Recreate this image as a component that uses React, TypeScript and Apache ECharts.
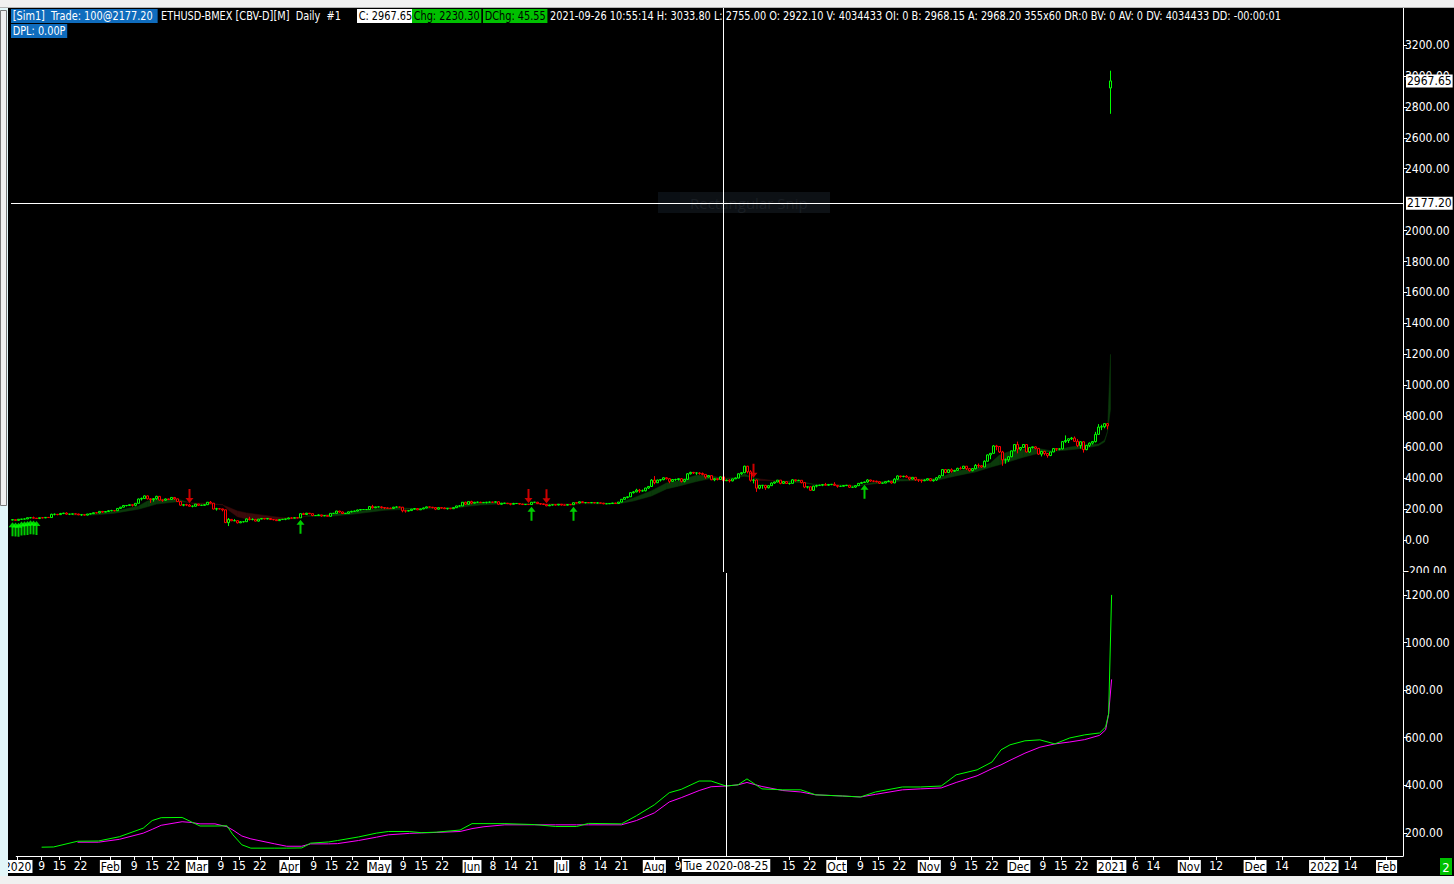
import React, { useEffect, useRef } from "react";
import * as echarts from "echarts";

// Daily ETHUSD bars, rows are [open, high, low, close]
const jan2020 = [[129,133,128,131],[131,131,126,127],[127,135,125,134],[134,136,132,135],[135,139,134,136],[136,145,135,144],[144,148,140,144],[144,151,139,141],[141,142,136,139],[139,145,135,144],[144,148,140,143],[143,147,141,146],[146,147,142,145],[145,170,144,166],[166,171,159,166],[166,167,160,164],[164,175,162,171],[171,175,167,174],[174,179,163,167],[167,168,161,167],[167,170,164,169],[169,171,166,168],[168,169,160,163],[163,165,156,163],[163,163,158,161],[161,168,159,168],[168,174,166,170],[170,177,168,176],[176,180,172,175],[175,187,172,185],[185,186,176,180]];
const feb2020 = [[180,185,179,184],[184,193,182,189],[189,195,186,190],[190,191,185,189],[189,206,188,204],[204,214,202,212],[212,225,210,223],[223,226,217,223],[223,229,222,228],[228,229,216,224],[224,238,218,237],[237,268,236,265],[265,275,255,268],[268,288,266,285],[285,288,262,266],[266,270,240,261],[261,271,248,267],[267,286,260,282],[282,284,256,258],[258,262,247,257],[257,268,254,265],[265,267,258,262],[262,276,260,275],[275,278,260,266],[266,267,246,248],[248,250,220,225],[225,233,218,228],[228,234,219,226],[226,233,217,218]];
const mar2020 = [[218,224,211,218],[218,233,216,232],[232,233,221,224],[224,228,220,224],[224,231,223,228],[228,245,227,244],[244,252,236,238],[238,239,197,200],[200,208,190,202],[202,207,197,201],[201,202,185,195],[195,196,110,112],[112,142,90,133],[133,135,122,124],[124,135,122,125],[125,126,107,111],[111,122,109,118],[118,119,113,118],[118,140,117,136],[136,150,126,132],[132,140,127,133],[133,136,121,122],[122,136,119,135],[135,141,134,139],[139,141,133,136],[136,139,134,139],[139,140,130,132],[132,132,127,131],[131,132,124,125],[125,134,124,132],[132,136,131,134]];
const apr2020 = [[134,137,128,136],[136,145,135,142],[142,147,138,141],[141,146,140,144],[144,145,140,143],[143,172,143,170],[170,176,164,165],[165,175,164,173],[173,174,167,170],[170,170,154,158],[158,160,155,158],[158,166,157,162],[162,162,150,156],[156,160,154,158],[158,159,153,153],[153,174,150,172],[172,175,169,172],[172,189,171,187],[187,188,177,181],[181,184,169,171],[171,174,168,172],[172,184,170,182],[182,189,178,185],[185,190,184,187],[187,196,185,194],[194,198,192,197],[197,200,194,197],[197,198,193,197],[197,218,196,216],[216,227,203,208]];
const may2020 = [[208,215,206,214],[214,216,210,214],[214,218,203,210],[210,211,199,207],[207,210,202,205],[205,209,200,204],[204,214,202,212],[212,218,210,213],[213,215,208,212],[212,213,179,189],[189,195,177,187],[187,192,185,190],[190,201,188,199],[199,206,196,203],[203,204,193,195],[195,202,194,201],[201,210,199,207],[207,216,205,214],[214,216,208,212],[212,213,204,210],[210,211,193,199],[199,210,197,209],[209,211,203,207],[207,211,200,202],[202,206,197,205],[205,206,199,202],[202,210,201,209],[209,221,207,220],[220,225,216,220],[220,245,219,244],[244,247,229,231]];
const jun2020 = [[231,249,229,248],[248,254,231,238],[238,246,236,244],[244,248,239,244],[244,247,239,241],[241,245,240,243],[243,246,236,244],[244,248,242,245],[245,246,240,244],[244,250,242,247],[247,249,229,231],[231,240,229,237],[237,240,235,238],[238,239,232,235],[235,236,224,231],[231,240,230,236],[236,239,234,236],[236,237,229,232],[232,234,226,229],[229,232,226,230],[230,232,227,229],[229,245,228,244],[244,246,241,244],[244,246,233,235],[235,237,228,233],[233,235,226,230],[230,231,218,221],[221,228,219,226],[226,230,223,228],[228,229,223,226]];
const jul2020 = [[226,232,224,231],[231,232,223,226],[226,228,224,225],[225,230,224,229],[229,229,225,228],[228,242,227,241],[241,242,237,239],[239,249,237,247],[247,249,240,242],[242,243,236,242],[242,243,239,241],[241,243,238,242],[242,244,237,240],[240,242,236,240],[240,241,236,238],[238,240,231,234],[234,236,232,234],[234,238,233,236],[236,240,234,239],[239,240,235,236],[236,246,236,245],[245,264,243,263],[263,277,261,275],[275,281,269,279],[279,306,278,306],[306,316,300,311],[311,331,308,322],[322,330,305,317],[317,326,313,318],[318,337,314,336],[336,348,330,346]];
const aug2020 = [[346,394,345,387],[387,413,360,370],[370,390,368,387],[387,394,378,390],[390,405,386,402],[402,405,391,396],[396,400,367,379],[379,392,376,391],[391,396,382,391],[391,399,384,396],[396,400,372,379],[379,394,372,392],[392,432,389,428],[428,441,423,437],[437,440,427,433],[433,436,421,433],[433,438,422,430],[430,436,418,424],[424,425,396,407],[407,419,405,416],[416,418,387,389],[389,397,380,396],[396,398,385,391],[391,411,391,408],[408,409,375,383],[383,390,381,387],[387,393,372,382],[382,396,379,395],[395,404,395,400],[400,429,399,428],[428,438,421,435]];
const sep2020 = [[435,480,432,477],[477,479,430,441],[441,451,377,386],[386,396,366,388],[388,392,311,335],[335,355,328,353],[353,355,331,353],[353,356,324,338],[338,353,333,351],[351,372,350,368],[368,377,363,375],[375,387,372,387],[387,387,360,366],[366,381,362,377],[377,379,362,365],[365,370,358,366],[366,393,364,389],[389,390,377,384],[384,389,381,386],[386,386,366,371],[371,372,335,342],[342,346,333,344],[344,346,317,321],[321,351,318,348],[348,357,340,352],[352,357,350,354],[354,362,348,358],[358,369,352,354],[354,362,350,359],[359,362,354,360]];
const oct2020 = [[360,373,349,353],[353,355,338,347],[347,351,344,347],[347,355,346,352],[352,356,348,354],[354,355,336,341],[341,344,337,342],[342,352,337,351],[351,368,349,366],[366,376,365,371],[371,377,370,375],[375,393,369,388],[388,389,376,381],[381,385,374,380],[380,383,372,377],[377,378,362,367],[367,370,365,368],[368,379,367,377],[377,386,375,379],[379,382,364,369],[369,400,367,393],[393,418,388,414],[414,415,403,410],[410,415,405,412],[412,419,404,406],[406,407,386,394],[394,405,392,405],[405,406,382,389],[389,393,375,387],[387,390,370,383],[383,392,380,387]];
const nov2020 = [[387,398,385,396],[396,398,380,383],[383,391,377,388],[388,407,382,402],[402,419,399,415],[415,457,413,455],[455,459,431,436],[436,456,432,454],[454,463,435,444],[444,453,440,450],[450,467,449,463],[463,474,455,462],[462,479,458,477],[477,477,453,461],[461,462,442,448],[448,464,444,461],[461,491,456,482],[482,494,467,480],[480,483,466,472],[472,515,470,509],[509,553,507,550],[550,560,522,560],[560,614,559,608],[608,615,580,604],[604,607,562,569],[569,576,480,518],[518,527,493,518],[518,542,505,538],[538,578,535,576],[576,617,575,617]];
const dec2020 = [[617,636,560,587],[587,601,577,598],[598,619,596,617],[617,620,566,569],[569,597,563,597],[597,604,591,602],[602,605,586,592],[592,595,550,555],[555,576,540,573],[573,577,547,559],[559,560,532,546],[546,569,542,569],[569,593,567,591],[591,594,576,587],[587,594,580,589],[589,638,585,636],[636,676,627,643],[643,656,627,654],[654,666,646,659],[659,669,636,638],[638,652,600,610],[610,637,591,635],[635,638,565,584],[584,613,580,612],[612,630,601,626],[626,640,617,636],[636,699,630,683],[683,749,681,730],[730,745,710,732],[732,754,722,752],[752,754,715,738]];
const lastBar2021 = [[2922.10,3033.80,2755.00,2967.65]];

// Moving averages (lower pane), sampled: day number since 2020-01-01
const maDays = [8,12,20,27,34,42,45,48,55,58,61,66,70,72,75,78,86,90,95,98,104,107,114,120,124,131,135,140,148,152,156,163,173,180,187,191,202,207,213,218,222,228,232,237,241,244,249,256,262,267,276,282,287,296,302,309,314,321,326,329,332,337,342,347,352,357,362,364,365,366];
const fastMa = [140,141,165,166,184,220,252,264,265,247,229,229,230,192,150,136,136,136,137,157,162,168,183,199,206,206,201,203,212,239,239,239,235,227,227,240,238,272,318,369,383,418,418,397,402,427,385,381,381,360,355,351,372,393,393,397,444,465,498,549,570,587,591,574,599,612,620,645,700,1200];
const slowMa = [null,null,161,161,173,199,215,232,247,244,238,238,226,212,187,175,154,144,144,154,154,155,168,182,192,198,200,202,206,218,226,234,234,234,234,234,234,252,284,330,348,378,394,397,402,412,395,378,372,360,355,351,362,381,385,389,412,440,470,486,505,535,560,574,582,592,610,633,700,845];

const buySignalDays = [0,1,2,3,4,5,6,7,8,96,173,187,284];
const sellSignalDays = [59,172,178,247];

// 2200 sits under the crosshair price box in the reference
const priceTicks = [-200,0,200,400,600,800,1000,1200,1400,1600,1800,2000,2400,2600,2800,3000,3200];
const maTicks = [200,400,600,800,1000,1200];

const xTickDays = [0,8,14,21,31,39,45,52,60,68,74,81,91,99,105,112,121,129,135,142,152,159,165,172,182,189,195,202,213,221,258,265,274,282,288,295,305,313,319,326,335,343,349,356,366,374,380,392,401,414,423,437,446,458];
const xTickTexts = ["2020","9","15","22","Feb","9","15","22","Mar","9","15","22","Apr","9","15","22","May","9","15","22","Jun","8","14","21","Jul","8","14","21","Aug","9","15","22","Oct","9","15","22","Nov","9","15","22","Dec","9","15","22","2021","6","14","Nov","12","Dec","14","2022","14","Feb"];

const crosshairDay = 237;
const crosshairPrice = 2177.2;
const crosshairDateText = "Tue 2020-08-25";
const lastPrice = 2967.65;

const FONT = "'Liberation Sans Narrow', 'DejaVu Sans Condensed', 'Liberation Sans', sans-serif";
const AXIS_FS = 12;

function buildCategories(): string[] {
  const cats: string[] = [];
  for (let i = 0; i < 366; i++) {
    cats.push(new Date(Date.UTC(2020, 0, 1 + i)).toISOString().slice(0, 10));
  }
  cats.push("2021-09-26");
  let t = Date.UTC(2021, 8, 26);
  while (cats.length < 464) {
    t += 86400000;
    const d = new Date(t);
    const wd = d.getUTCDay();
    if (wd === 0 || wd === 6) continue;
    cats.push(d.toISOString().slice(0, 10));
  }
  return cats;
}

export default function App() {
  const ref = useRef<HTMLDivElement>(null);
  useEffect(() => {
    document.body.style.margin = "0";
    const el = ref.current!;
    const chart = echarts.init(el, null, { renderer: "svg" });
    const cats = buildCategories();
    const rows = [...jan2020, ...feb2020, ...mar2020, ...apr2020, ...may2020, ...jun2020, ...jul2020, ...aug2020, ...sep2020, ...oct2020, ...nov2020, ...dec2020, ...lastBar2021];
    const candleData = rows.map(([o, h, l, c]) => [o, c, l, h]);
    const tickMap = new Map<number, string>();
    xTickDays.forEach((d, k) => tickMap.set(d, xTickTexts[k]));
    const fastData = maDays.map((d, k) => [d, fastMa[k]]);
    const slowData = maDays.map((d, k) => [d, slowMa[k]]).filter((p) => p[1] != null);
    const ribbon: number[][] = [];
    for (let k = 0; k < maDays.length - 1; k++) {
      if (slowMa[k] == null || slowMa[k + 1] == null) continue;
      ribbon.push([maDays[k], fastMa[k], slowMa[k] as number, maDays[k + 1], fastMa[k + 1], slowMa[k + 1] as number]);
    }
    const buyData = buySignalDays.map((d) => [d, rows[d][2]]);
    const sellData = sellSignalDays.map((d) => [d, rows[d][1]]);

    const boxLabel = {
      show: true,
      backgroundColor: "#fff",
      color: "#000",
      fontFamily: FONT,
      fontSize: AXIS_FS,
      padding: [1, 1, 0, 1],
    };

    const HS = 0.835;
    const header = (text: string, x: number, y: number, fill: string, bg?: string) => ({
      type: "text",
      x,
      y,
      z: 50,
      scaleX: HS,
      style: {
        text,
        fill,
        font: `13px ${FONT}`,
        backgroundColor: bg,
        padding: bg ? [1, 2, 0, 2] : 0,
        verticalAlign: "middle",
      },
    });

    chart.setOption({
      animation: false,
      backgroundColor: "#000",
      grid: [
        { left: 11, right: 51, top: 8, height: 564 },
        { left: 11, right: 51, top: 573, height: 283 },
      ],
      xAxis: [
        { type: "category", gridIndex: 0, data: cats, boundaryGap: true, show: false },
        {
          type: "category",
          gridIndex: 1,
          data: cats,
          boundaryGap: true,
          axisLine: { show: true, lineStyle: { color: "#fff", width: 1 } },
          axisTick: {
            show: true,
            alignWithLabel: true,
            interval: (i: number) => tickMap.has(i),
            length: 4,
            lineStyle: { color: "#fff" },
          },
          axisLabel: {
            show: true,
            interval: (i: number) => tickMap.has(i),
            color: "#fff",
            fontFamily: FONT,
            fontSize: AXIS_FS,
            margin: 4,
            formatter: (_v: string, i: number) => {
              const t = tickMap.get(i) || "";
              return /^\d{1,2}$/.test(t) ? t : `{box|${t}}`;
            },
            rich: {
              box: { backgroundColor: "#fff", color: "#000", fontFamily: FONT, fontSize: AXIS_FS, padding: [1, 1, 0, 1] },
            },
          },
          splitLine: { show: false },
        },
      ],
      yAxis: [
        {
          type: "value",
          gridIndex: 0,
          position: "right",
          min: -207,
          max: 3439,
          axisLine: { show: true, lineStyle: { color: "#fff" } },
          axisTick: { show: true, length: 4, customValues: priceTicks, lineStyle: { color: "#fff" } },
          axisLabel: {
            customValues: priceTicks,
            formatter: (v: number) => v.toFixed(2),
            color: "#fff",
            fontFamily: FONT,
            fontSize: AXIS_FS,
            margin: 2,
          },
          splitLine: { show: false },
        },
        {
          type: "value",
          gridIndex: 1,
          position: "right",
          min: 103,
          max: 1292,
          axisLine: { show: true, lineStyle: { color: "#fff" } },
          axisTick: { show: true, length: 4, customValues: maTicks, lineStyle: { color: "#fff" } },
          axisLabel: {
            customValues: maTicks,
            formatter: (v: number) => v.toFixed(2),
            color: "#fff",
            fontFamily: FONT,
            fontSize: AXIS_FS,
            margin: 2,
          },
          splitLine: { show: false },
        },
      ],
      series: [
        {
          type: "custom",
          name: "ribbon",
          xAxisIndex: 0,
          yAxisIndex: 0,
          z: 1,
          silent: true,
          data: ribbon,
          encode: { x: [0, 3], y: [1, 2, 4, 5] },
          renderItem: (_p: any, api: any) => {
            const p0 = api.coord([api.value(0), api.value(1)]);
            const p1 = api.coord([api.value(3), api.value(4)]);
            const q1 = api.coord([api.value(3), api.value(5)]);
            const q0 = api.coord([api.value(0), api.value(2)]);
            const up = api.value(1) + api.value(4) >= api.value(2) + api.value(5);
            return {
              type: "polygon",
              shape: { points: [p0, p1, q1, q0] },
              style: { fill: up ? "#0b3a0b" : "#3a0b0b", stroke: up ? "#0b3a0b" : "#3a0b0b", lineWidth: 0.5 },
            };
          },
        },
        {
          type: "candlestick",
          name: "ETHUSD",
          xAxisIndex: 0,
          yAxisIndex: 0,
          z: 2,
          barWidth: 3,
          data: candleData,
          itemStyle: {
            color: "#000",
            color0: "#000",
            borderColor: "#00ff00",
            borderColor0: "#ff0000",
            borderWidth: 1,
          },
          markLine: {
            silent: true,
            symbol: ["none", "none"],
            animation: false,
            data: [
              {
                yAxis: crosshairPrice,
                lineStyle: { color: "#fff", width: 1, type: "solid" },
                label: { ...boxLabel, position: "end", distance: 3, formatter: (p: any) => Number(p.value).toFixed(2) },
              },
              {
                yAxis: lastPrice,
                lineStyle: { color: "rgba(0,0,0,0)", width: 1, type: "solid" },
                label: { ...boxLabel, position: "end", distance: 3, formatter: (p: any) => Number(p.value).toFixed(2) },
              },
            ],
          },
        },
        {
          type: "scatter",
          name: "crosshairTop",
          xAxisIndex: 0,
          yAxisIndex: 0,
          silent: true,
          symbolSize: 0,
          data: [[crosshairDay, crosshairPrice]],
          markLine: {
            silent: true,
            symbol: ["none", "none"],
            animation: false,
            data: [{ xAxis: crosshairDay, lineStyle: { color: "#fff", width: 1, type: "solid" }, label: { show: false } }],
          },
        },
        {
          type: "scatter",
          name: "crosshairBottom",
          xAxisIndex: 1,
          yAxisIndex: 1,
          silent: true,
          symbolSize: 0,
          data: [[crosshairDay, 400]],
          markLine: {
            silent: true,
            symbol: ["none", "none"],
            animation: false,
            data: [
              {
                xAxis: crosshairDay,
                lineStyle: { color: "#fff", width: 1, type: "solid" },
                label: { ...boxLabel, position: "start", distance: 3, padding: [1, 2, 0, 2], formatter: crosshairDateText },
              },
            ],
          },
        },
        {
          type: "scatter",
          name: "buy",
          xAxisIndex: 0,
          yAxisIndex: 0,
          z: 3,
          data: buyData,
          symbol: "path://M4,0 L8,5 L5,5 L5,14 L3,14 L3,5 L0,5 Z",
          symbolSize: [8, 14],
          symbolOffset: [0, 9],
          itemStyle: { color: "#00ff00" },
        },
        {
          type: "scatter",
          name: "sell",
          xAxisIndex: 0,
          yAxisIndex: 0,
          z: 3,
          data: sellData,
          symbol: "path://M3,0 L5,0 L5,9 L8,9 L4,14 L0,9 L3,9 Z",
          symbolSize: [8, 14],
          symbolOffset: [0, -8],
          itemStyle: { color: "#ff0000" },
        },
        {
          type: "line",
          name: "slow",
          xAxisIndex: 1,
          yAxisIndex: 1,
          data: slowData,
          showSymbol: false,
          lineStyle: { color: "#ff00ff", width: 1 },
          z: 2,
        },
        {
          type: "line",
          name: "fast",
          xAxisIndex: 1,
          yAxisIndex: 1,
          data: fastData,
          showSymbol: false,
          lineStyle: { color: "#00ff00", width: 1 },
          z: 3,
        },
      ],
      graphic: [
        { type: "rect", z: 40, shape: { x: 0, y: 0, width: 1454, height: 7 }, style: { fill: "#f0f0f0" } },
        { type: "rect", z: 40, shape: { x: 0, y: 7, width: 1454, height: 1 }, style: { fill: "#b4b4b4" } },
        { type: "rect", z: 40, shape: { x: 0, y: 8, width: 8, height: 868 }, style: { fill: "#e2f6f9" } },
        { type: "rect", z: 41, shape: { x: 0.5, y: 10.5, width: 6, height: 495 }, style: { fill: "#f0f0f0", stroke: "#7a7a7a", lineWidth: 1 } },
        { type: "rect", z: 40, shape: { x: 0, y: 876, width: 1454, height: 8 }, style: { fill: "#f0f0f0" } },
        { type: "rect", z: 40, shape: { x: 1404, y: 573, width: 50, height: 8 }, style: { fill: "#000" } },
        { type: "rect", z: 41, shape: { x: 1440, y: 858, width: 12, height: 17 }, style: { fill: "#00c000" } },
        { type: "text", z: 42, x: 1446, y: 867, style: { text: "2", fill: "#fff", font: `13px ${FONT}`, align: "center", verticalAlign: "middle" } },
        { type: "rect", z: 0, shape: { x: 658, y: 192, width: 172, height: 21 }, style: { fill: "#0d1115" } },
        { type: "rect", z: 0, shape: { x: 658, y: 192, width: 22, height: 21 }, style: { fill: "#0a0f14" } },
        { type: "text", z: 0, x: 690, y: 203, style: { text: "Rectangular Snip", fill: "#1a1f24", font: "15px 'Open Sans', sans-serif", verticalAlign: "middle" } },
        header("[Sim1]  Trade: 100@2177.20 ", 11, 16, "#fff", "#0f6cbd"),
        header("ETHUSD-BMEX [CBV-D][M]  Daily  #1", 161, 16, "#fff"),
        header("C: 2967.65", 357, 16, "#000", "#fff"),
        header("Chg: 2230.30", 412, 16, "#000", "#00c000"),
        header("DChg: 45.55", 483, 16, "#000", "#00c000"),
        header("2021-09-26 10:55:14 H: 3033.80 L: 2755.00 O: 2922.10 V: 4034433 OI: 0 B: 2968.15 A: 2968.20 355x60 DR:0 BV: 0 AV: 0 DV: 4034433 DD: -00:00:01", 550, 16, "#fff"),
        header("DPL: 0.00P", 11, 31, "#fff", "#0f6cbd"),
      ],
    });
    return () => chart.dispose();
  }, []);
  return <div ref={ref} style={{ position: "absolute", left: 0, top: 0, width: 1454, height: 884 }} />;
}
